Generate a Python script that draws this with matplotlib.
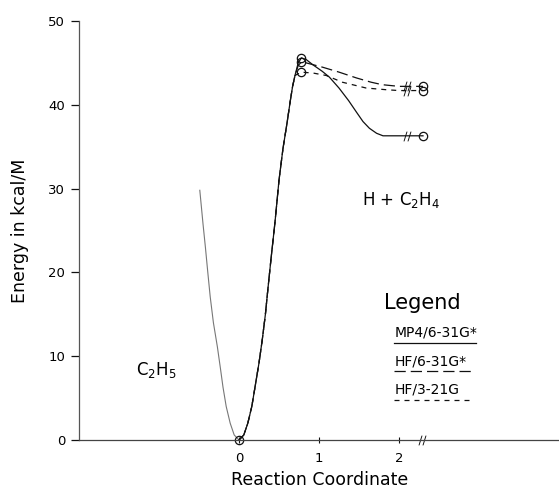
import matplotlib
matplotlib.use("Agg")
import matplotlib.pyplot as plt

# ---- data ----
well_x = [-0.49, -0.45, -0.42, -0.39, -0.36, -0.32, -0.27, -0.23, -0.20, -0.16, -0.11, -0.06, 0.0]
well_y = [29.8, 25.8, 23.0, 20.0, 17.1, 14.0, 11.1, 8.4, 6.3, 4.0, 2.0, 0.6, 0.0]

rise_x = [0.0, 0.06, 0.11, 0.16, 0.20, 0.25, 0.29, 0.33, 0.36, 0.40, 0.45, 0.50, 0.55, 0.60, 0.64, 0.67, 0.70]
rise_y = [0.0, 0.6, 2.0, 4.0, 6.3, 9.2, 11.9, 15.0, 17.9, 21.6, 26.0, 31.0, 34.8, 37.8, 40.4, 42.2, 43.5]

mp4_x = [0.74, 0.78, 0.84, 0.92, 1.04, 1.13, 1.25, 1.37, 1.47, 1.55, 1.63, 1.72, 1.80, 1.90, 2.00, 2.10, 2.30]
mp4_y = [45.0, 45.6, 45.4, 44.8, 44.0, 43.3, 42.0, 40.5, 39.1, 38.0, 37.2, 36.6, 36.3, 36.3, 36.3, 36.3, 36.3]

hf631_x = [0.74, 0.78, 0.84, 0.92, 1.04, 1.25, 1.47, 1.65, 1.79, 2.00, 2.10, 2.30]
hf631_y = [44.7, 45.1, 45.0, 44.8, 44.5, 43.9, 43.2, 42.7, 42.4, 42.2, 42.2, 42.2]

hf321_x = [0.74, 0.78, 0.84, 0.92, 1.09, 1.29, 1.59, 1.84, 2.00, 2.10, 2.30]
hf321_y = [43.7, 43.9, 43.85, 43.8, 43.5, 42.7, 42.0, 41.8, 41.7, 41.7, 41.7]

series_names = ["MP4/6-31G*", "HF/6-31G*", "HF/3-21G"]
break_x = 2.1
axis_break_x = 2.29

x_ticks = [0, 1, 2]
y_ticks = [0, 10, 20, 30, 40, 50]

# ---- figure ----
fig = plt.figure(figsize=(5.59, 4.92), dpi=100)
ax = fig.add_axes([79 / 559, (492 - 440) / 492, 1 - 79 / 559, (440 - 21) / 492])
ax.set_xlim(-2.0, 4.0)
ax.set_ylim(0, 50)

ink = "#111111"
styles = ["-", (0, (9, 4)), (0, (4, 4))]
series = [(mp4_x, mp4_y), (hf631_x, hf631_y), (hf321_x, hf321_y)]

# well (left branch)
ax.plot(well_x, well_y, color="#777777", lw=0.8, clip_on=False)

for (sx, sy), ls in zip(series, styles):
    xs = rise_x + sx
    ys = rise_y + sy
    ax.plot(xs, ys, color=ink, lw=0.9, linestyle=ls, clip_on=False)
    ip = sy.index(max(sy))
    ax.plot([sx[ip]], [sy[ip]], marker="o", ms=6, mfc="none", mec=ink, mew=0.9, ls="none")
    ax.plot([sx[-1]], [sy[-1]], marker="o", ms=6, mfc="none", mec=ink, mew=0.9, ls="none")
    ib = sx.index(break_x)
    ax.plot([break_x], [sy[ib]], marker="$//$", ms=7, color=ink, mew=0, ls="none")

ax.plot([rise_x[0]], [rise_y[0]], marker="o", ms=6, mfc="none", mec=ink, mew=0.9, ls="none", clip_on=False)
ax.plot([axis_break_x], [0], marker="$//$", ms=7, color=ink, mew=0, ls="none", clip_on=False)

for s in ["top", "right"]:
    ax.spines[s].set_visible(False)
ax.spines["left"].set_color("#555555")
ax.spines["left"].set_linewidth(0.9)
ax.spines["bottom"].set_color("#444444")
ax.spines["bottom"].set_linewidth(0.9)
ax.set_xticks(x_ticks)
ax.set_yticks(y_ticks)
ax.tick_params(axis="y", direction="out", length=6, width=0.9, labelsize=9.5, pad=4, color=ink)
ax.tick_params(axis="x", direction="inout", length=5, width=0.8, labelsize=9.5, pad=6, color=ink)

ax.set_ylabel("Energy in kcal/M", fontsize=12.5, labelpad=14)
ax.set_xlabel("Reaction Coordinate", fontsize=12.5, labelpad=4)
ax.xaxis.set_label_coords((320 - 79) / 480, -0.075)

ax.text(1.54, 28.6, r"H + C$_2$H$_4$", fontsize=12, va="center", ha="left")
ax.text(-1.29, 8.4, r"C$_2$H$_5$", fontsize=12, va="center", ha="left")
ax.text(1.81, 16.3, "Legend", fontsize=15, va="center", ha="left")

leg_y = [12.8, 9.4, 6.0]
for name, ly, ls in zip(series_names, leg_y, styles):
    ax.text(1.94, ly, name, fontsize=10, va="center", ha="left")
    ax.plot([1.94, 2.96 if ls == "-" else 2.92], [ly - 1.2, ly - 1.2], color=ink, lw=0.9, linestyle=ls)

fig.savefig("out.png", dpi=100)
